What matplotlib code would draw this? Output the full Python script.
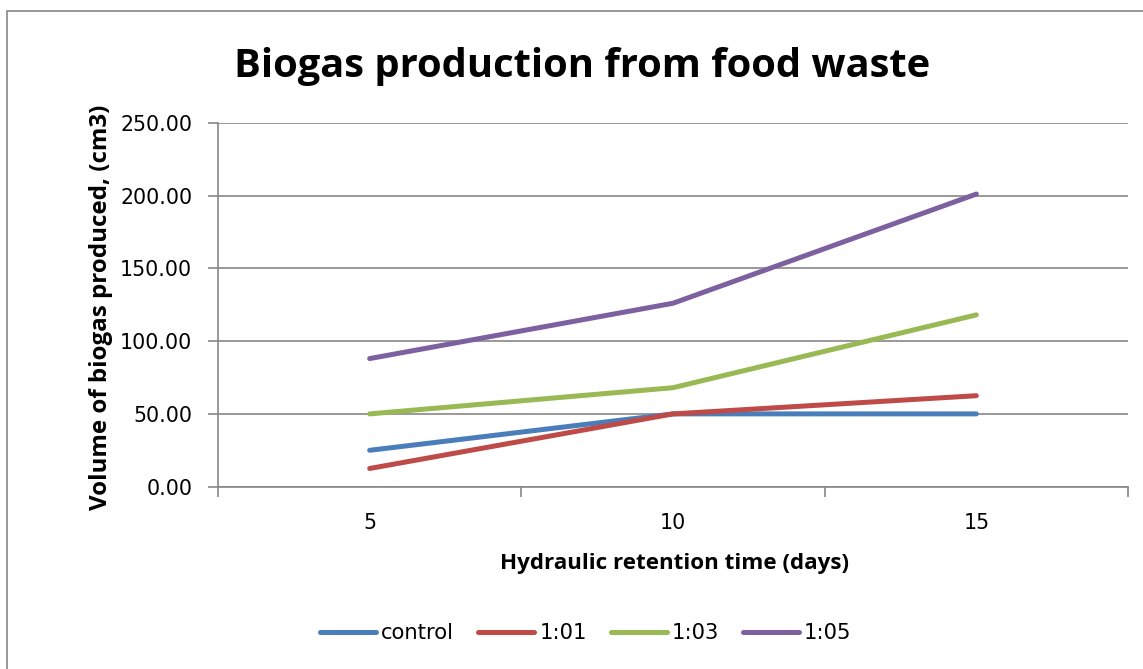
import matplotlib
matplotlib.use("Agg")
import matplotlib.pyplot as plt
from matplotlib.patches import Rectangle
from matplotlib.ticker import FixedLocator, FuncFormatter

categories = ["5", "10", "15"]
control = [25.0, 50.0, 50.0]
ratio_1_01 = [12.5, 50.0, 62.5]
ratio_1_03 = [50.0, 68.0, 118.0]
ratio_1_05 = [88.0, 126.0, 201.0]
series_names = ["control", "1:01", "1:03", "1:05"]
yticks = [0, 50, 100, 150, 200, 250]

colors = ["#4A7EBB", "#BE4B48", "#98B954", "#7D60A0"]
REG = ['DejaVu Sans']
BOLD = ['Open Sans', 'DejaVu Sans']
plt.rcParams['font.family'] = REG

W, H = 1143, 669
fig = plt.figure(figsize=(W / 100, H / 100), dpi=100)
PX_PER_PT = 100 / 72.0


def fx(px):
    return px / W


def fy(py):
    return 1 - py / H


def fit_size(s, target_px, family, weight="normal", base=20, vertical=False):
    t = fig.text(0, 0, s, fontsize=base, family=family, fontweight=weight)
    fig.canvas.draw()
    w = t.get_window_extent(fig.canvas.get_renderer()).width
    t.remove()
    return base * target_px / w


# outer chart border
fig.patches.append(Rectangle((fx(7), fy(700)), fx(1145) - fx(7), fy(11) - fy(700),
                             transform=fig.transFigure, fill=False,
                             edgecolor="#868686", linewidth=1.2))

tick_size = fit_size("250.00", 72, REG)
leg_size = fit_size("control", 73, REG)
title_size = fit_size("Biogas production from food waste", 697, BOLD, "bold")
xlab_size = fit_size("Hydraulic retention time (days)", 348, BOLD, "bold")
ylab_size = fit_size("Volume of biogas produced, (cm3)", 405, BOLD, "bold")

left, right, top, bottom = 218, 1128, 122.7, 486.7
ax = fig.add_axes([fx(left), fy(bottom), fx(right) - fx(left), fy(top) - fy(bottom)])

x = list(range(len(categories)))
for vals, name, c in zip([control, ratio_1_01, ratio_1_03, ratio_1_05], series_names, colors):
    ax.plot(x, vals, color=c, linewidth=3.6, solid_capstyle="round",
            solid_joinstyle="round", label=name, zorder=3)

ax.set_xlim(-0.5, len(categories) - 0.5)
ax.set_ylim(0, 250)
ax.set_yticks(yticks)
ax.yaxis.set_major_formatter(FuncFormatter(lambda v, p: f"{v:.2f}"))
ax.grid(axis="y", color="#878787", linewidth=1.2, zorder=0)
ax.set_axisbelow(True)

ax.set_xticks(x)
ax.set_xticklabels(categories)
ax.xaxis.set_minor_locator(FixedLocator([i - 0.5 for i in range(len(categories) + 1)]))
ax.tick_params(axis="x", which="major", length=0, pad=19, labelsize=tick_size)
ax.tick_params(axis="x", which="minor", length=7, width=1.2, color="#878787", direction="out")
ax.tick_params(axis="y", which="major", length=7, width=1.2, color="#878787",
               direction="out", labelsize=tick_size, pad=11.5)

for s in ["top", "right"]:
    ax.spines[s].set_visible(False)
for s in ["left", "bottom"]:
    ax.spines[s].set_color("#878787")
    ax.spines[s].set_linewidth(1.2)

fig.text(fx(674), fy(563), "Hydraulic retention time (days)", fontsize=xlab_size,
         family=BOLD, fontweight="bold", ha="center", va="center")
fig.text(fx(101), fy(307), "Volume of biogas produced, (cm3)", fontsize=ylab_size,
         family=BOLD, fontweight="bold", ha="center", va="center", rotation=90)

fig.text(fx(582), fy(77), "Biogas production from food waste", fontsize=title_size,
         family=BOLD, fontweight="bold", ha="center", va="baseline")

em = leg_size * PX_PER_PT
leg = fig.legend(loc="center", bbox_to_anchor=(fx(586), fy(633)), ncol=4, frameon=False,
                 fontsize=leg_size, handlelength=56 / em, handletextpad=5 / em,
                 columnspacing=24 / em, borderpad=0)

fig.savefig("out.png", dpi=100)
